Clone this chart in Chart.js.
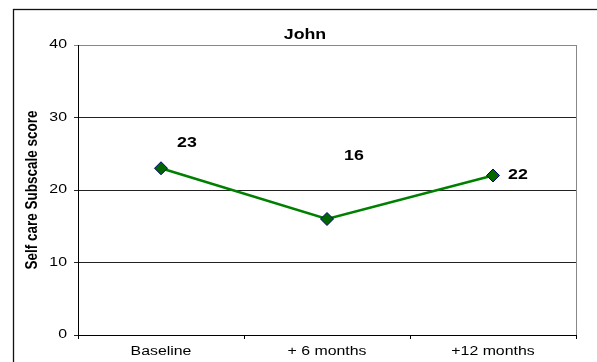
<!DOCTYPE html>
<html>
<head>
<meta charset="utf-8">
<script src="https://cdn.jsdelivr.net/npm/chart.js@4"></script>
<style>
  html, body { margin: 0; padding: 0; background: #fff; }
  #wrap { width: 597px; height: 362px; }
</style>
</head>
<body>
<div id="wrap"><canvas id="johnChart"></canvas></div>
<script>
const categories = ["Baseline", "+ 6 months", "+12 months"];
const scores = [23, 16, 22];
const yTicks = [0, 10, 20, 30, 40];

const chartTitle = "John";
const yAxisTitle = "Self care Subscale score";

// where each value label sits relative to its point
const labelOffsets = [[26, -25], [27, -63], [25, 0]];

const fontFamily = "'Liberation Sans', Arial, sans-serif";
// text in this chart is drawn a bit wider than the font's natural width
const textStretch = 1.27;

const canvas = document.getElementById("johnChart");
const ctx2d = canvas.getContext("2d");
const plainFillText = ctx2d.fillText;
ctx2d.fillText = function (text, x, y, maxWidth) {
    const m = this.getTransform();
    const p = m.transformPoint(new DOMPoint(x, y));
    this.save();
    this.setTransform(new DOMMatrix()
        .translate(p.x, p.y).scale(textStretch, 1).translate(-p.x, -p.y)
        .multiply(m));
    if (maxWidth === undefined) plainFillText.call(this, text, x, y);
    else plainFillText.call(this, text, x, y, maxWidth);
    this.restore();
};

// frame around the whole chart, grey right edge of the plot, and the title
const framePlugin = {
    id: "frame",
    beforeDraw(chart) {
        const ctx = chart.ctx;
        ctx.save();
        ctx.strokeStyle = "#111";
        ctx.lineWidth = 1.3;
        ctx.strokeRect(13.5, 9.5, 700, 500);
        ctx.font = "bold 14px " + fontFamily;
        ctx.fillStyle = "#000";
        ctx.textAlign = "center";
        ctx.textBaseline = "middle";
        ctx.fillText(chartTitle, 305, 35);
        ctx.restore();
    },
    afterDraw(chart) {
        const a = chart.chartArea;
        const ctx = chart.ctx;
        ctx.save();
        ctx.strokeStyle = "#888";
        ctx.lineWidth = 1;
        ctx.beginPath();
        ctx.moveTo(a.right + 0.5, a.top);
        ctx.lineTo(a.right + 0.5, a.bottom);
        ctx.stroke();
        ctx.restore();
    }
};

const valueLabels = {
    id: "valueLabels",
    afterDatasetsDraw(chart) {
        const ctx = chart.ctx;
        const meta = chart.getDatasetMeta(0);
        ctx.save();
        ctx.font = "bold 14px " + fontFamily;
        ctx.fillStyle = "#000";
        ctx.textAlign = "center";
        ctx.textBaseline = "middle";
        meta.data.forEach((pt, i) => {
            const off = labelOffsets[i];
            ctx.fillText(String(scores[i]), pt.x + off[0], pt.y + off[1]);
        });
        ctx.restore();
    }
};

new Chart(canvas, {
    type: "line",
    data: {
        labels: categories,
        datasets: [{
            data: scores,
            borderColor: "#008000",
            borderWidth: 2.5,
            pointStyle: "rectRot",
            pointRadius: 6.5,
            pointHoverRadius: 6.5,
            pointBackgroundColor: "#006600",
            pointBorderColor: "#000080",
            pointBorderWidth: 1,
            tension: 0
        }]
    },
    options: {
        responsive: true,
        maintainAspectRatio: false,
        animation: false,
        layout: { padding: { top: 45, right: 21, left: 16, bottom: 0 } },
        plugins: {
            legend: { display: false },
            tooltip: { enabled: false },
            title: { display: false }
        },
        scales: {
            x: {
                offset: true,
                grid: {
                    offset: true,
                    drawOnChartArea: false,
                    tickLength: 4,
                    color: "#000"
                },
                border: { color: "#000", width: 1 },
                ticks: {
                    color: "#000",
                    padding: 5,
                    maxRotation: 0,
                    autoSkip: false,
                    font: { family: fontFamily, size: 12.5 }
                },
                afterFit(scale) { scale.height = 27; }
            },
            y: {
                min: 0,
                max: 40,
                afterBuildTicks(scale) {
                    scale.ticks = yTicks.map(v => ({ value: v }));
                },
                grid: {
                    tickLength: 4,
                    color: ctx => ctx.tick && ctx.tick.value === 40 ? "#888" : "#222"
                },
                border: { color: "#000", width: 1 },
                ticks: {
                    color: "#000",
                    padding: 7,
                    font: { family: fontFamily, size: 12.5 }
                },
                title: {
                    display: true,
                    text: yAxisTitle,
                    color: "#000",
                    font: { family: fontFamily, size: 13.5, weight: "bold" },
                    padding: { top: 8, bottom: 0 }
                },
                afterFit(scale) { scale.width = 62; }
            }
        }
    },
    plugins: [framePlugin, valueLabels]
});
</script>
</body>
</html>
